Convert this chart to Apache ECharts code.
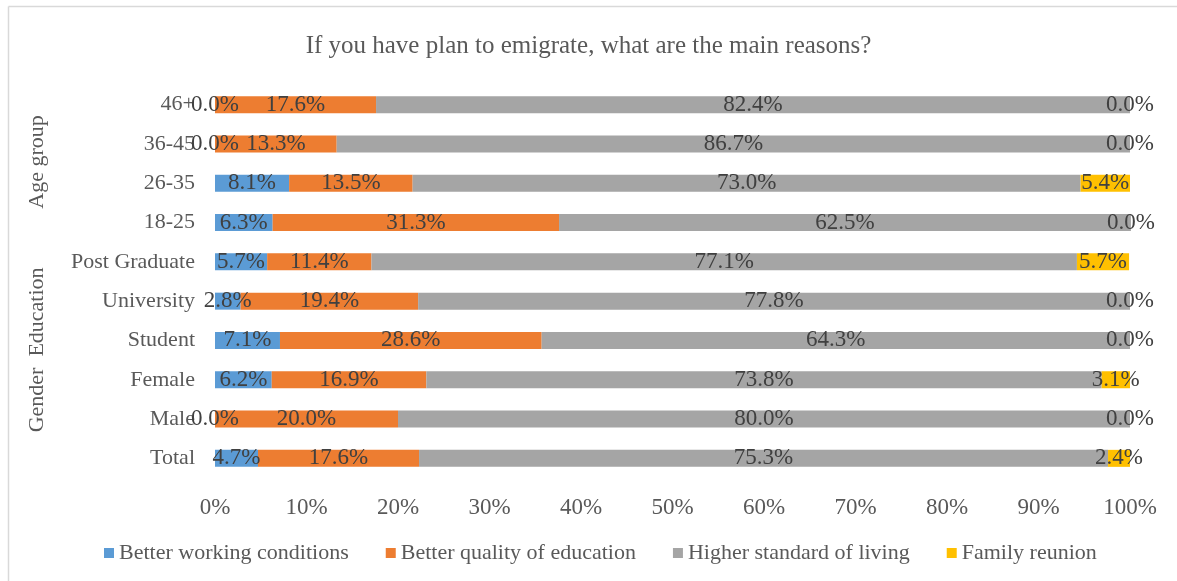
<!DOCTYPE html>
<html>
<head>
<meta charset="utf-8">
<script src="https://cdn.jsdelivr.net/npm/echarts@6/dist/echarts.min.js"></script>
<style>
  html, body { margin: 0; padding: 0; background: #fff; }
  #chart { width: 1177px; height: 581px; }
</style>
</head>
<body>
<div id="chart"></div>
<script>
// Categories, listed bottom to top as drawn on the category axis
const categories = ['Total', 'Male', 'Female', 'Student', 'University', 'Post Graduate', '18-25', '26-35', '36-45', '46+'];

// Percentage share of each reason per group
const workingConditions = [4.7, 0.0, 6.2, 7.1, 2.8, 5.7, 6.3, 8.1, 0.0, 0.0];
const qualityEducation  = [17.6, 20.0, 16.9, 28.6, 19.4, 11.4, 31.3, 13.5, 13.3, 17.6];
const standardOfLiving  = [75.3, 80.0, 73.8, 64.3, 77.8, 77.1, 62.5, 73.0, 86.7, 82.4];
const familyReunion     = [2.4, 0.0, 3.1, 0.0, 0.0, 5.7, 0.0, 5.4, 0.0, 0.0];

const seriesNames = ['Better working conditions', 'Better quality of education', 'Higher standard of living', 'Family reunion'];
const colors = ['#5B9BD5', '#ED7D31', '#A5A5A5', '#FFC000'];

const xTicks = [0, 10, 20, 30, 40, 50, 60, 70, 80, 90, 100];

const FONT = "'Liberation Serif', 'Times New Roman', serif";

const chart = echarts.init(document.getElementById('chart'));

function makeSeries(name, data, color) {
  return {
    name: name,
    type: 'bar',
    stack: 'total',
    data: data,
    barWidth: 17,
    clip: false,
    itemStyle: { color: color },
    label: {
      show: true,
      position: 'inside',
      color: '#404040',
      fontFamily: FONT,
      fontSize: 23,
      formatter: p => p.value.toFixed(1) + '%'
    },
    emphasis: { disabled: true }
  };
}

const option = {
  animation: false,
  title: {
    text: 'If you have plan to emigrate, what are the main reasons?',
    left: 'center',
    top: 29,
    textStyle: { color: '#595959', fontFamily: FONT, fontSize: 25, fontWeight: 'normal' }
  },
  grid: { left: 215, right: 47, top: 85, height: 393 },
  xAxis: {
    type: 'value',
    min: xTicks[0],
    max: xTicks[xTicks.length - 1],
    interval: 10,
    axisLabel: { formatter: '{value}%', color: '#595959', fontFamily: FONT, fontSize: 23, margin: 18 },
    splitLine: { show: false },
    axisLine: { show: false },
    axisTick: { show: false }
  },
  yAxis: {
    type: 'category',
    data: categories,
    axisLabel: { color: '#595959', fontFamily: FONT, fontSize: 22, margin: 20 },
    axisLine: { show: false },
    axisTick: { show: false }
  },
  legend: {
    bottom: 12,
    left: 99,
    itemWidth: 10,
    itemHeight: 10,
    itemGap: 37,
    icon: 'rect',
    textStyle: { color: '#595959', fontFamily: FONT, fontSize: 22 },
    data: seriesNames
  },
  series: [
    makeSeries(seriesNames[0], workingConditions, colors[0]),
    makeSeries(seriesNames[1], qualityEducation, colors[1]),
    makeSeries(seriesNames[2], standardOfLiving, colors[2]),
    makeSeries(seriesNames[3], familyReunion, colors[3])
  ],
  graphic: [
    // chart frame
    { type: 'line', shape: { x1: 8.5, y1: 6.5, x2: 1177, y2: 6.5 }, style: { stroke: '#D9D9D9', lineWidth: 1.5 } },
    { type: 'line', shape: { x1: 8.5, y1: 6.5, x2: 8.5, y2: 581 }, style: { stroke: '#D9D9D9', lineWidth: 1.5 } },
    // group labels
    { type: 'text', x: 37, y: 162, rotation: Math.PI / 2, style: { text: 'Age group', fill: '#595959', font: '22px ' + FONT, textAlign: 'center', textVerticalAlign: 'middle' } },
    { type: 'text', x: 37, y: 312, rotation: Math.PI / 2, style: { text: 'Education', fill: '#595959', font: '22px ' + FONT, textAlign: 'center', textVerticalAlign: 'middle' } },
    { type: 'text', x: 37, y: 400, rotation: Math.PI / 2, style: { text: 'Gender', fill: '#595959', font: '22px ' + FONT, textAlign: 'center', textVerticalAlign: 'middle' } }
  ]
};

chart.setOption(option);
</script>
</body>
</html>
